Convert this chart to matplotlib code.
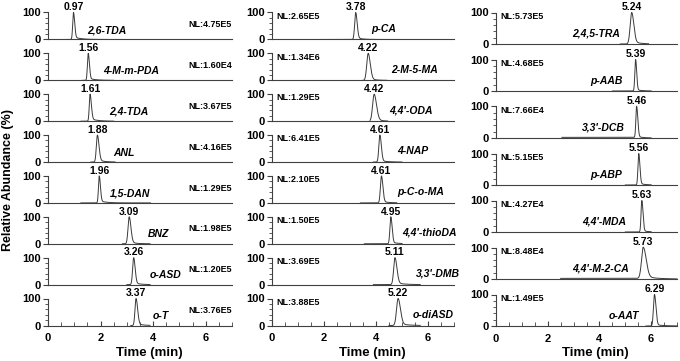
import numpy as np
import matplotlib
matplotlib.use("Agg")
import matplotlib.pyplot as plt
from matplotlib.ticker import MultipleLocator, FixedLocator

plt.rcParams['font.family'] = ['Liberation Sans', 'DejaVu Sans']

# ---------------- data ----------------
left_names = ['2,6-TDA', '4-M-m-PDA', '2,4-TDA', 'ANL', '1,5-DAN', 'BNZ', 'o-ASD', 'o-T']
left_rt = ['0.97', '1.56', '1.61', '1.88', '1.96', '3.09', '3.26', '3.37']
left_apex = [0.97, 1.53, 1.60, 1.88, 1.95, 3.09, 3.26, 3.35]
left_nl = ['4.75E5', '1.60E4', '3.67E5', '4.16E5', '1.29E5', '1.98E5', '1.20E5', '3.76E5']
left_sl = [0.030, 0.030, 0.030, 0.040, 0.030, 0.045, 0.040, 0.040]
left_sr = [0.045, 0.045, 0.050, 0.060, 0.045, 0.065, 0.055, 0.060]
left_tail = [0.10, 0.08, 0.10, 0.10, 0.08, 0.08, 0.08, 0.08]
left_tau = [0.25, 0.25, 0.25, 0.20, 0.25, 0.20, 0.20, 0.20]
left_start = [0.68, 1.30, 1.25, 1.63, 1.25, 2.83, 3.00, 3.15]
left_end = [2.30, 2.50, 2.50, 2.55, 3.90, 3.88, 3.88, 3.88]
left_name_x = [1.50, 2.10, 2.33, 2.50, 2.37, 3.80, 3.85, 4.00]

mid_names = ['p-CA', '2-M-5-MA', "4,4'-ODA", '4-NAP', 'p-C-o-MA', "4,4'-thioDA", "3,3'-DMB", 'o-diASD']
mid_rt = ['3.78', '4.22', '4.42', '4.61', '4.61', '4.95', '5.11', '5.22']
mid_apex = [3.22, 3.70, 3.93, 4.15, 4.21, 4.57, 4.73, 4.85]
mid_nl = ['2.65E5', '1.34E6', '1.29E5', '6.41E5', '2.10E5', '1.50E5', '3.69E5', '3.88E5']
mid_sl = [0.040, 0.055, 0.060, 0.040, 0.040, 0.035, 0.050, 0.060]
mid_sr = [0.055, 0.080, 0.090, 0.055, 0.055, 0.050, 0.075, 0.090]
mid_tail = [0.08, 0.08, 0.10, 0.06, 0.06, 0.06, 0.08, 0.08]
mid_tau = [0.20, 0.20, 0.20, 0.25, 0.25, 0.25, 0.30, 0.30]
mid_start = [1.75, 3.50, 3.77, 3.90, 3.40, 3.55, 3.90, 4.50]
mid_end = [4.90, 4.42, 4.45, 5.00, 4.80, 5.00, 5.70, 5.70]
mid_name_x = [3.80, 4.60, 4.50, 4.80, 4.80, 5.00, 5.55, 5.40]

right_names = ['2,4,5-TRA', 'p-AAB', "3,3'-DCB", 'p-ABP', "4,4'-MDA", "4,4'-M-2-CA", 'o-AAT']
right_rt = ['5.24', '5.39', '5.46', '5.56', '5.63', '5.73', '6.29']
right_apex = [5.25, 5.40, 5.44, 5.52, 5.64, 5.70, 6.13]
right_nl = ['5.73E5', '4.68E5', '7.66E4', '5.15E5', '4.27E4', '8.48E4', '1.49E5']
right_sl = [0.060, 0.030, 0.030, 0.030, 0.030, 0.070, 0.040]
right_sr = [0.080, 0.040, 0.045, 0.045, 0.045, 0.110, 0.055]
right_tail = [0.10, 0.05, 0.06, 0.06, 0.05, 0.10, 0.05]
right_tau = [0.25, 0.20, 0.20, 0.20, 0.20, 0.40, 0.30]
right_start = [4.80, 4.50, 2.55, 5.00, 5.00, 2.50, 5.80]
right_end = [5.90, 6.00, 6.00, 6.00, 6.00, 7.00, 7.00]
right_base = [0.0, 0.0, 2.0, 0.0, 0.0, 2.0, 0.0]
right_name_x = [2.93, 3.63, 3.32, 3.63, 3.32, 2.93, 4.36]

x_ticks = [0, 2, 4, 6]

# ---------------- layout ----------------
W, H = 680, 361
fig = plt.figure(figsize=(W / 100, H / 100), dpi=100)

LINE = '#3a3a3a'
AX = '#404040'


def peak(x, c, sl, sr, a, tau):
    d = x - c
    left = np.exp(-0.5 * (d / sl) ** 2)
    right = (1 - a) * np.exp(-0.5 * (d / sr) ** 2) + a * np.exp(-np.clip(d, 0, None) / tau)
    return 100 * np.where(d < 0, left, right)


def make_axes(px0, px1, zero_y, height):
    return fig.add_axes([px0 / W, (H - zero_y) / H, (px1 - px0) / W, height / H])


def style(ax, bottom):
    ax.set_xlim(0, 7)
    ax.set_ylim(0, 100)
    for s in ['top', 'right']:
        ax.spines[s].set_visible(False)
    for s in ['left', 'bottom']:
        ax.spines[s].set_color(AX)
        ax.spines[s].set_linewidth(0.8)
    ax.yaxis.set_major_locator(FixedLocator([0, 100]))
    ax.yaxis.set_minor_locator(MultipleLocator(20))
    ax.tick_params(axis='y', which='major', direction='out', length=3.5, width=0.8,
                   color=AX, pad=1.5, labelsize=8)
    ax.tick_params(axis='y', which='minor', direction='out', length=2, width=0.6, color=AX)
    for lab in ax.get_yticklabels():
        lab.set_fontweight('bold')
    if bottom:
        ax.xaxis.set_major_locator(FixedLocator(x_ticks))
        ax.xaxis.set_minor_locator(MultipleLocator(0.5))
        ax.tick_params(axis='x', which='major', direction='in', length=3.5, width=0.8,
                       color=AX, pad=5.5, labelsize=8)
        ax.tick_params(axis='x', which='minor', direction='in', length=3, width=0.6, color=AX)
        ax.set_xticklabels([str(t) for t in x_ticks], fontweight='bold')
    else:
        ax.set_xticks([])
        ax.set_xticks([], minor=True)


def draw_trace(ax, c, sl, sr, a, tau, x0, x1, base):
    x = np.linspace(x0, x1, 600)
    y = peak(x, c, sl, sr, a, tau) + base * (x < c)
    ax.plot(x, y, color=LINE, lw=0.7, clip_on=False, solid_joinstyle='round')


columns = [
    dict(px=(48, 232), nrows=8, names=left_names, rt=left_rt, apex=left_apex, nl=left_nl,
         sl=left_sl, sr=left_sr, tail=left_tail, tau=left_tau, start=left_start,
         end=left_end, base=[0.0] * 8, name_x=left_name_x, name_y=35, nl_pos='right'),
    dict(px=(272, 454), nrows=8, names=mid_names, rt=mid_rt, apex=mid_apex, nl=mid_nl,
         sl=mid_sl, sr=mid_sr, tail=mid_tail, tau=mid_tau, start=mid_start,
         end=mid_end, base=[0.0] * 8, name_x=mid_name_x, name_y=40, nl_pos='left'),
    dict(px=(496, 677), nrows=7, names=right_names, rt=right_rt, apex=right_apex, nl=right_nl,
         sl=right_sl, sr=right_sr, tail=right_tail, tau=right_tau, start=right_start,
         end=right_end, base=right_base, name_x=right_name_x, name_y=32, nl_pos='left'),
]

for col in columns:
    n = col['nrows']
    if n == 8:
        bottom_zero, pitch, height = 325.5, 40.86, 27.0
    else:
        bottom_zero, pitch, height = 326.0, 47.0, 31.5
    for i in range(n):
        zero_y = bottom_zero - (n - 1 - i) * pitch
        ax = make_axes(col['px'][0], col['px'][1], zero_y, height)
        style(ax, i == n - 1)
        draw_trace(ax, col['apex'][i], col['sl'][i], col['sr'][i], col['tail'][i],
                   col['tau'][i], col['start'][i], col['end'][i], col['base'][i])
        ax.text(col['apex'][i], 101, col['rt'][i], ha='center', va='bottom',
                fontsize=7.5, fontweight='bold', clip_on=False)
        ax.text(col['name_x'][i], col['name_y'], col['names'][i], ha='left', va='center',
                fontsize=7.5, fontweight='bold', fontstyle='italic', clip_on=False)
        if col['nl_pos'] == 'right':
            ax.text(7.0, 55, 'NL:' + col['nl'][i], ha='right', va='center',
                    fontsize=6.5, fontweight='bold', clip_on=False)
        else:
            ax.text(0.15, 86, 'NL:' + col['nl'][i], ha='left', va='center',
                    fontsize=6.5, fontweight='bold', clip_on=False)
    # x-axis title, placed at 3.85 min below the bottom panel
    px_per_min = (col['px'][1] - col['px'][0]) / 7.0
    fig.text((col['px'][0] + 3.85 * px_per_min) / W, 1 - 353 / H, 'Time (min)',
             ha='center', va='center', fontsize=9.5, fontweight='bold')

fig.text(8 / W, 1 - 180 / H, 'Relative Abundance (%)', rotation=90, ha='center',
         va='center', fontsize=9, fontweight='bold')

fig.savefig('out.png', dpi=100)
